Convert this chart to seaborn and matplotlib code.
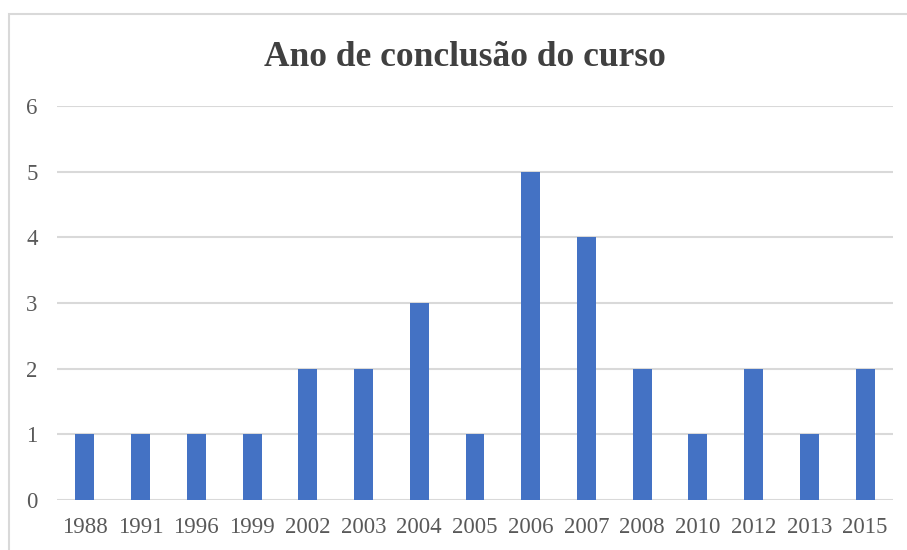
import matplotlib
matplotlib.use("Agg")
import matplotlib.pyplot as plt
import seaborn as sns
import pandas as pd
from matplotlib.patches import Rectangle

# --- DATA
anos = ['1988', '1991', '1996', '1999', '2002', '2003', '2004', '2005',
        '2006', '2007', '2008', '2010', '2012', '2013', '2015']
contagem = [1, 1, 1, 1, 2, 2, 3, 1, 5, 4, 2, 1, 2, 1, 2]

df = pd.DataFrame({'ano': anos, 'n': contagem})

sns.set_theme(style='white')
plt.rcParams['font.family'] = ['Liberation Serif', 'DejaVu Serif']

fig = plt.figure(figsize=(9.07, 5.5), dpi=100)
W, H = 907, 550
ax = fig.add_axes([57 / W, 1 - 500 / H, (893 - 57) / W, (500 - 106) / H])

sns.barplot(data=df, x='ano', y='n', color='#4472C4', width=0.34,
            saturation=1, linewidth=0, ax=ax)

ax.set_ylim(0, 6)
ax.set_yticks(range(0, 7))
ax.set_xlim(-0.5, len(anos) - 0.5)
ax.yaxis.grid(True, color='#D9D9D9', linewidth=1.5)
ax.set_axisbelow(True)
for s in ax.spines.values():
    s.set_visible(False)
ax.set_xlabel('')
ax.set_ylabel('')
ax.tick_params(axis='both', length=0, labelsize=16.5, labelcolor='#595959')
ax.tick_params(axis='y', pad=14)
ax.tick_params(axis='x', pad=12)

fig.text(465 / W, 1 - 57 / H, 'Ano de conclusão do curso', ha='center',
         va='center', fontsize=25.5, fontweight='bold', color='#404040')

# moldura cinza do gráfico
fig.patches.append(Rectangle((9 / W, -0.05), 1.1, 1 - 14 / H + 0.05,
                             transform=fig.transFigure, fill=False,
                             edgecolor='#D9D9D9', linewidth=1.5))

fig.savefig('out.png', dpi=100)
